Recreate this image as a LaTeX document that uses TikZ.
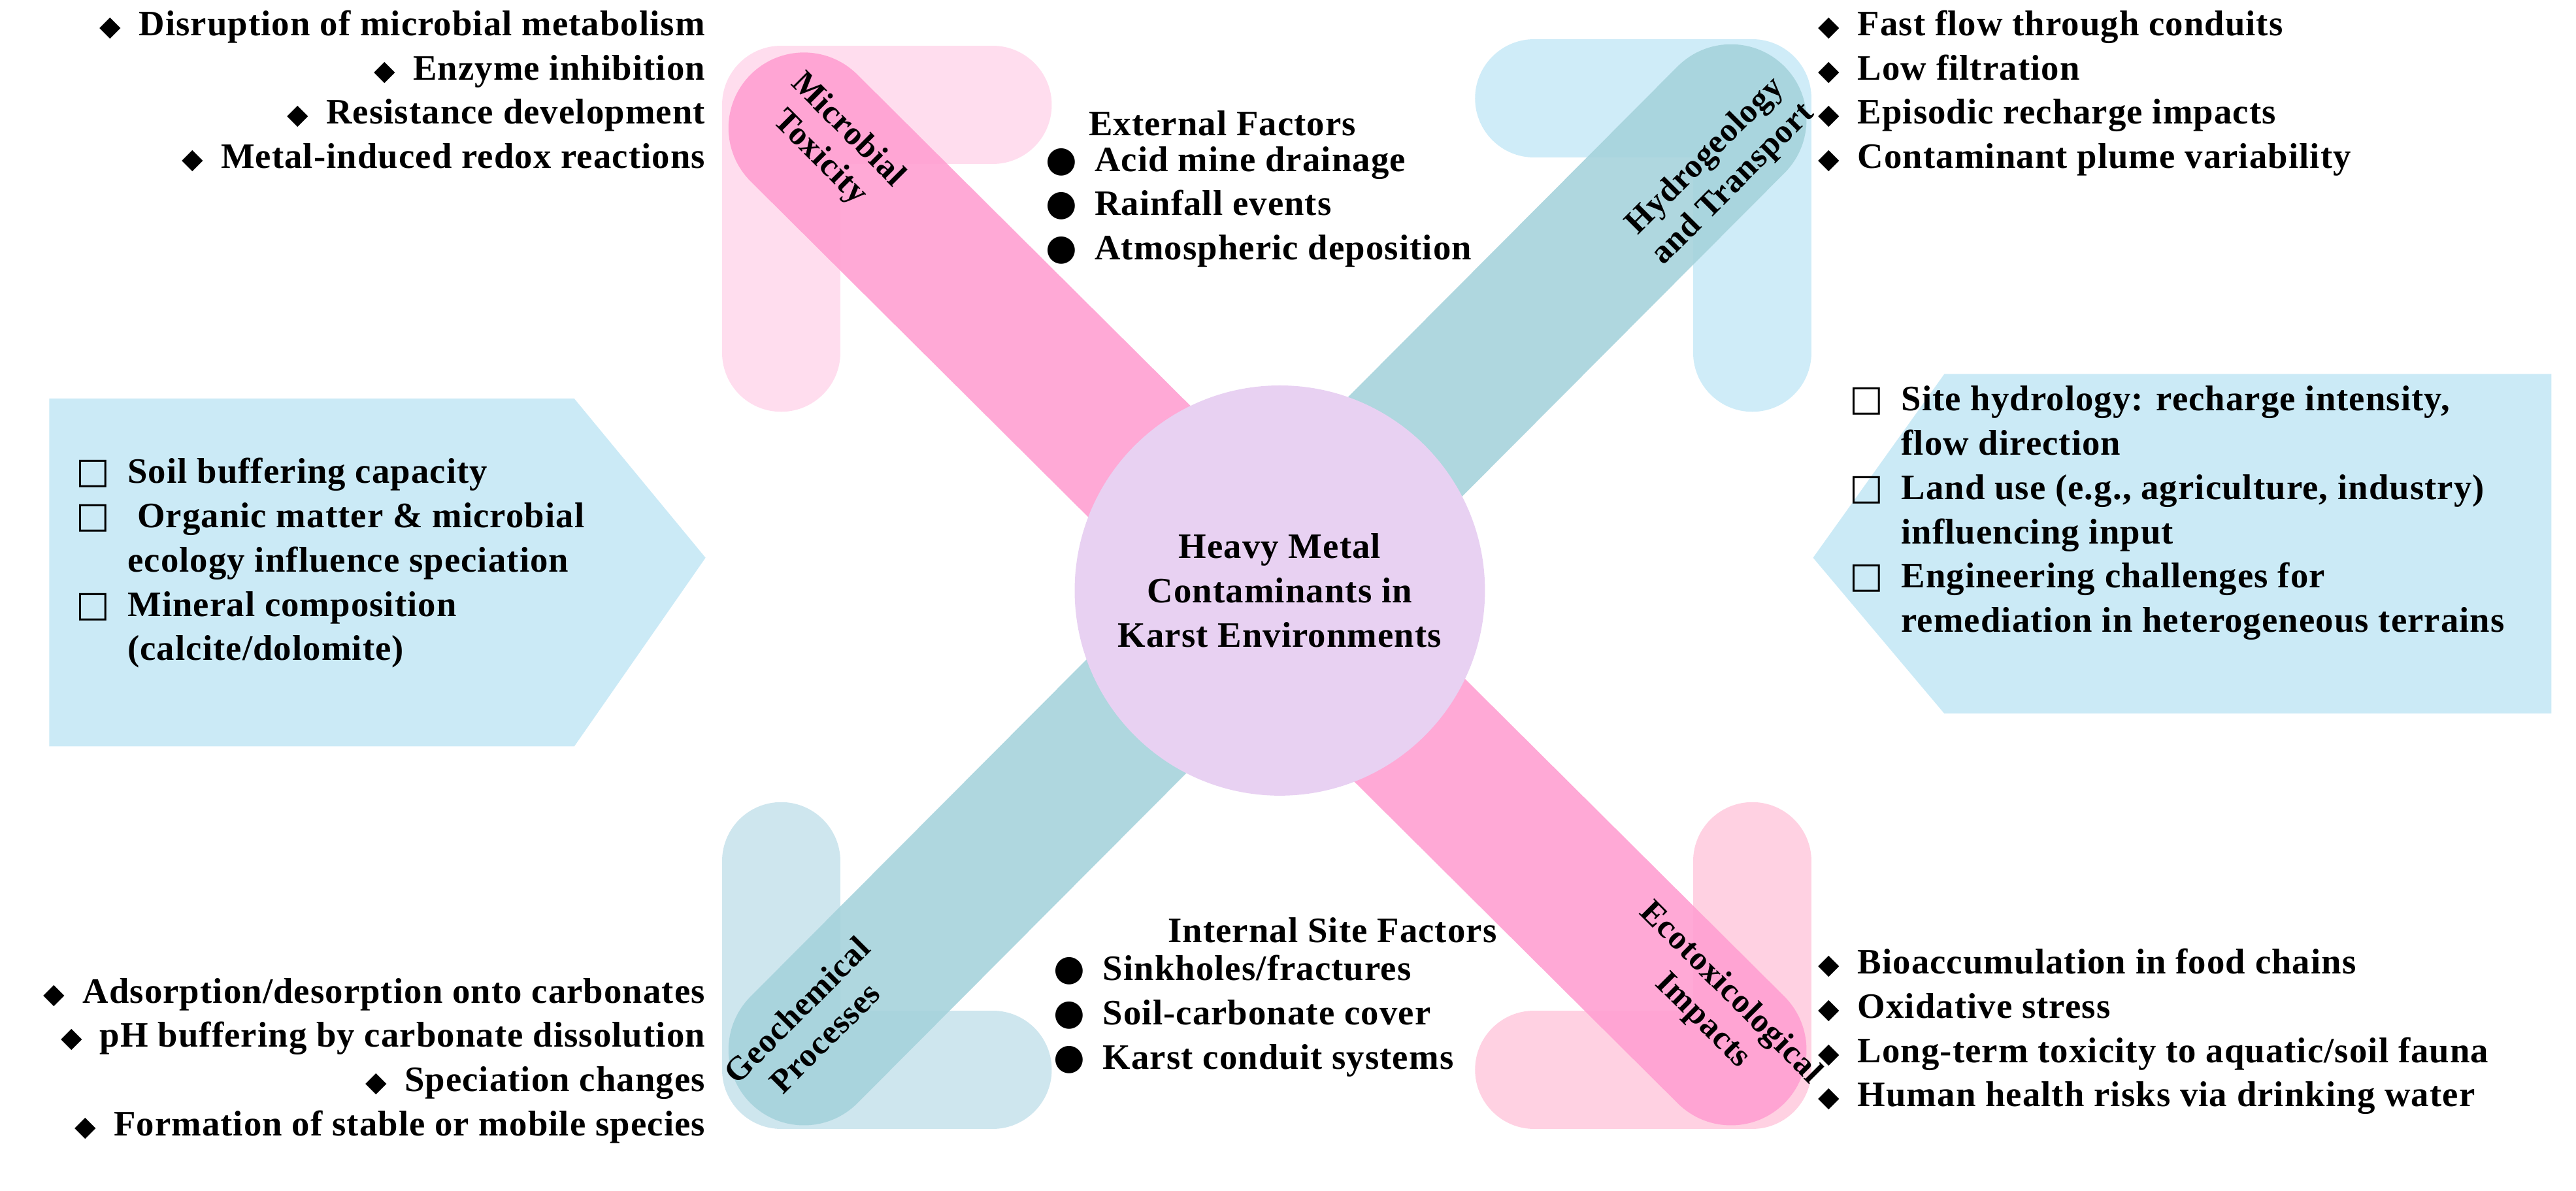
\documentclass[tikz,border=0pt]{standalone}
\usepackage{fontspec}
\setmainfont{Liberation Serif}[LetterSpace=2]
\newfontfamily\symf{DejaVu Sans}
\newcommand{\dia}{{\symf\large ◆}\enspace}
\newcommand{\bdot}{{\symf ●}\enspace}
\newcommand{\sq}{{\symf □}\enspace}
\definecolor{pinkband}{HTML}{FFA0D2}
\definecolor{tealband}{HTML}{A6D3DC}
\definecolor{lpink}{HTML}{FFD2E8}
\definecolor{lblue}{HTML}{BFE6F5}
\definecolor{lteal}{HTML}{BEDDE8}
\definecolor{lpink2}{HTML}{FFC2D8}
\definecolor{lilac}{HTML}{E8D1F2}
\definecolor{pent}{HTML}{CBEAF6}
\begin{document}
\begin{tikzpicture}[x=0.025cm,y=-0.025cm,
  txt/.style={font=\fontsize{15.5}{19.2}\selectfont\bfseries, inner sep=0pt},
  lbl/.style={font=\fontsize{14.5}{17}\selectfont\bfseries, inner sep=0pt, align=center},
  lst/.style={txt, align=left, anchor=north west},
  rlst/.style={txt, align=right, anchor=north east},
  ell/.style={line width=1.8cm, line cap=round, line join=round, opacity=0.75},
  band/.style={line width=2.3cm, line cap=round, opacity=0.9}]
\useasboundingbox (0,0) rectangle (1570,726);
% L shapes
\draw[ell, lpink] (605,64) -- (476,64) -- (476,215);
\draw[ell, lblue] (935,60) -- (1068,60) -- (1068,215);
\draw[ell, lteal] (476,525) -- (476,652) -- (605,652);
\draw[ell, lpink2] (1068,525) -- (1068,652) -- (935,652);
% bands
\coordinate (p1) at (490,78); \coordinate (p2) at (1055,640);
\coordinate (t1) at (1055,73); \coordinate (t2) at (490,640);
\draw[band, tealband] (t1) -- (t2);
\draw[band, pinkband] (p1) -- (p2);
% circle
\node[circle, fill=lilac, minimum size=6.25cm, txt, align=center] (c) at (780,360) {Heavy Metal\\Contaminants in\\Karst Environments};
% band labels
\node[lbl, rotate=-45] (mt) at (508,88) {Microbial\\Toxicity};
\node[lbl, rotate=45] (ht) at (1048,104) {Hydrogeology\\and Transport};
\node[lbl, rotate=45] (gp) at (494,624) {Geochemical\\Processes};
\node[lbl, rotate=-45] (ei) at (1046,614) {Ecotoxicological\\Impacts};
% pentagons
\fill[pent] (30,243) -- (350,243) -- (430,340) -- (350,455) -- (30,455) -- cycle;
\fill[pent] (1555,228) -- (1185,228) -- (1105,340) -- (1185,435) -- (1555,435) -- cycle;
% lists
\node[rlst] (tl) at (430,6) {\dia Disruption of microbial metabolism\\\dia Enzyme inhibition\\\dia Resistance development\\\dia Metal-induced redox reactions};
\node[txt] (ef) at (745,75) {External Factors};
\node[lst] (efl) at (637,89) {\bdot Acid mine drainage\\\bdot Rainfall events\\\bdot Atmospheric deposition};
\node[lst] (tr) at (1108,6) {\dia Fast flow through conduits\\\dia Low filtration\\\dia Episodic recharge impacts\\\dia Contaminant plume variability};
\node[lst] (lp) at (46,279) {\sq Soil buffering capacity\\\sq\ Organic matter \& microbial\\\phantom{\sq}ecology influence speciation\\\sq Mineral composition\\\phantom{\sq}(calcite/dolomite)};
\node[lst] (rp) at (1127,235) {\sq Site hydrology: recharge intensity,\\\phantom{\sq}flow direction\\\sq Land use (e.g., agriculture, industry)\\\phantom{\sq}influencing input\\\sq Engineering challenges for\\\phantom{\sq}remediation in heterogeneous terrains};
\node[txt] (isf) at (812,567) {Internal Site Factors};
\node[lst] (isl) at (642,582) {\bdot Sinkholes/fractures\\\bdot Soil-carbonate cover\\\bdot Karst conduit systems};
\node[rlst] (bl) at (430,596) {\dia Adsorption/desorption onto carbonates\\\dia pH buffering by carbonate dissolution\\\dia Speciation changes\\\dia Formation of stable or mobile species};
\node[lst] (br) at (1108,578) {\dia Bioaccumulation in food chains\\\dia Oxidative stress\\\dia Long-term toxicity to aquatic/soil fauna\\\dia Human health risks via drinking water};
\end{tikzpicture}
\end{document}
